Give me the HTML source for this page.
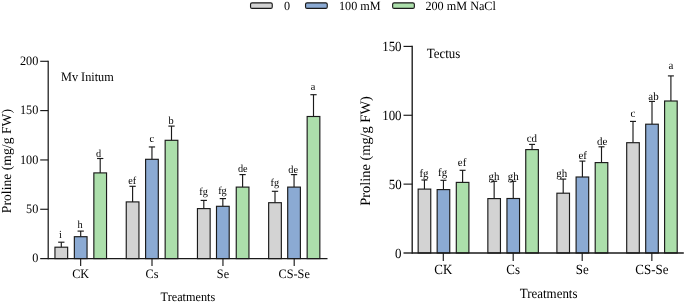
<!DOCTYPE html>
<html lang="en">
<head>
<meta charset="utf-8">
<title>Proline content chart</title>
<style>
html,body{margin:0;padding:0;background:#fff;}
body{width:685px;height:303px;overflow:hidden;}
svg{display:block;will-change:transform;opacity:0.9999;}
svg text{font-family:"Liberation Serif","Times New Roman",serif;fill:#000;text-rendering:geometricPrecision;}
</style>
</head>
<body>
<svg width="685" height="303" viewBox="0 0 685 303">
<rect x="0" y="0" width="685" height="303" fill="#ffffff"/>
<g>
<rect x="250.55" y="2.8" width="21.7" height="5.6" rx="1.5" ry="1.5" fill="#d3d3d3" stroke="#1a1a1a" stroke-width="1.15"/>
<text transform="translate(284.10 9.70) scale(0.9709 1)" font-size="12.57">0</text>
<rect x="305.55" y="2.8" width="21.7" height="5.6" rx="1.5" ry="1.5" fill="#8baad3" stroke="#1a1a1a" stroke-width="1.15"/>
<text transform="translate(339.00 9.70) scale(0.9709 1)" font-size="12.57">100 mM</text>
<rect x="392.65" y="2.8" width="21.7" height="5.6" rx="1.5" ry="1.5" fill="#acdfab" stroke="#1a1a1a" stroke-width="1.15"/>
<text transform="translate(425.40 9.70) scale(0.9709 1)" font-size="12.57">200 mM NaCl</text>
</g>
<g>
<line x1="61.30" y1="247.20" x2="61.30" y2="242.20" stroke="#1a1a1a" stroke-width="1.15"/>
<line x1="58.15" y1="242.20" x2="64.45" y2="242.20" stroke="#1a1a1a" stroke-width="1.15"/>
<rect x="54.95" y="247.20" width="12.70" height="11.40" fill="#d3d3d3" stroke="#1a1a1a" stroke-width="1.15"/>
<text transform="translate(60.50 237.70) scale(0.9524 1)" font-size="10.82" text-anchor="middle">i</text>
<line x1="80.70" y1="236.70" x2="80.70" y2="231.10" stroke="#1a1a1a" stroke-width="1.15"/>
<line x1="77.55" y1="231.10" x2="83.85" y2="231.10" stroke="#1a1a1a" stroke-width="1.15"/>
<rect x="74.35" y="236.70" width="12.70" height="21.90" fill="#8baad3" stroke="#1a1a1a" stroke-width="1.15"/>
<text transform="translate(80.10 227.70) scale(0.9524 1)" font-size="10.82" text-anchor="middle">h</text>
<line x1="100.20" y1="172.90" x2="100.20" y2="158.50" stroke="#1a1a1a" stroke-width="1.15"/>
<line x1="97.05" y1="158.50" x2="103.35" y2="158.50" stroke="#1a1a1a" stroke-width="1.15"/>
<rect x="93.85" y="172.90" width="12.70" height="85.70" fill="#acdfab" stroke="#1a1a1a" stroke-width="1.15"/>
<text transform="translate(98.60 156.75) scale(0.9524 1)" font-size="10.82" text-anchor="middle">d</text>
<line x1="132.60" y1="201.90" x2="132.60" y2="186.30" stroke="#1a1a1a" stroke-width="1.15"/>
<line x1="129.45" y1="186.30" x2="135.75" y2="186.30" stroke="#1a1a1a" stroke-width="1.15"/>
<rect x="126.25" y="201.90" width="12.70" height="56.70" fill="#d3d3d3" stroke="#1a1a1a" stroke-width="1.15"/>
<text transform="translate(132.30 184.10) scale(0.9524 1)" font-size="10.82" text-anchor="middle">ef</text>
<line x1="151.95" y1="159.30" x2="151.95" y2="146.95" stroke="#1a1a1a" stroke-width="1.15"/>
<line x1="148.80" y1="146.95" x2="155.10" y2="146.95" stroke="#1a1a1a" stroke-width="1.15"/>
<rect x="145.60" y="159.30" width="12.70" height="99.30" fill="#8baad3" stroke="#1a1a1a" stroke-width="1.15"/>
<text transform="translate(151.80 142.30) scale(0.9524 1)" font-size="10.82" text-anchor="middle">c</text>
<line x1="171.50" y1="140.30" x2="171.50" y2="126.10" stroke="#1a1a1a" stroke-width="1.15"/>
<line x1="168.35" y1="126.10" x2="174.65" y2="126.10" stroke="#1a1a1a" stroke-width="1.15"/>
<rect x="165.15" y="140.30" width="12.70" height="118.30" fill="#acdfab" stroke="#1a1a1a" stroke-width="1.15"/>
<text transform="translate(171.10 124.00) scale(0.9524 1)" font-size="10.82" text-anchor="middle">b</text>
<line x1="203.80" y1="208.60" x2="203.80" y2="200.40" stroke="#1a1a1a" stroke-width="1.15"/>
<line x1="200.65" y1="200.40" x2="206.95" y2="200.40" stroke="#1a1a1a" stroke-width="1.15"/>
<rect x="197.45" y="208.60" width="12.70" height="50.00" fill="#d3d3d3" stroke="#1a1a1a" stroke-width="1.15"/>
<text transform="translate(203.50 194.60) scale(0.9524 1)" font-size="10.82" text-anchor="middle">fg</text>
<line x1="222.85" y1="206.30" x2="222.85" y2="198.60" stroke="#1a1a1a" stroke-width="1.15"/>
<line x1="219.70" y1="198.60" x2="226.00" y2="198.60" stroke="#1a1a1a" stroke-width="1.15"/>
<rect x="216.50" y="206.30" width="12.70" height="52.30" fill="#8baad3" stroke="#1a1a1a" stroke-width="1.15"/>
<text transform="translate(222.45 193.80) scale(0.9524 1)" font-size="10.82" text-anchor="middle">fg</text>
<line x1="242.60" y1="187.10" x2="242.60" y2="174.60" stroke="#1a1a1a" stroke-width="1.15"/>
<line x1="239.45" y1="174.60" x2="245.75" y2="174.60" stroke="#1a1a1a" stroke-width="1.15"/>
<rect x="236.25" y="187.10" width="12.70" height="71.50" fill="#acdfab" stroke="#1a1a1a" stroke-width="1.15"/>
<text transform="translate(242.75 172.30) scale(0.9524 1)" font-size="10.82" text-anchor="middle">de</text>
<line x1="275.00" y1="202.70" x2="275.00" y2="191.30" stroke="#1a1a1a" stroke-width="1.15"/>
<line x1="271.85" y1="191.30" x2="278.15" y2="191.30" stroke="#1a1a1a" stroke-width="1.15"/>
<rect x="268.65" y="202.70" width="12.70" height="55.90" fill="#d3d3d3" stroke="#1a1a1a" stroke-width="1.15"/>
<text transform="translate(274.90 186.40) scale(0.9524 1)" font-size="10.82" text-anchor="middle">fg</text>
<line x1="294.05" y1="187.10" x2="294.05" y2="174.60" stroke="#1a1a1a" stroke-width="1.15"/>
<line x1="290.90" y1="174.60" x2="297.20" y2="174.60" stroke="#1a1a1a" stroke-width="1.15"/>
<rect x="287.70" y="187.10" width="12.70" height="71.50" fill="#8baad3" stroke="#1a1a1a" stroke-width="1.15"/>
<text transform="translate(293.20 173.00) scale(0.9524 1)" font-size="10.82" text-anchor="middle">de</text>
<line x1="313.50" y1="116.50" x2="313.50" y2="94.70" stroke="#1a1a1a" stroke-width="1.15"/>
<line x1="310.35" y1="94.70" x2="316.65" y2="94.70" stroke="#1a1a1a" stroke-width="1.15"/>
<rect x="307.15" y="116.50" width="12.70" height="142.10" fill="#acdfab" stroke="#1a1a1a" stroke-width="1.15"/>
<text transform="translate(313.10 89.70) scale(0.9524 1)" font-size="10.82" text-anchor="middle">a</text>
<line x1="48.20" y1="60.72" x2="48.20" y2="259.23" stroke="#1a1a1a" stroke-width="1.25"/>
<line x1="48.20" y1="258.60" x2="327.50" y2="258.60" stroke="#1a1a1a" stroke-width="1.25"/>
<line x1="40.20" y1="258.60" x2="48.20" y2="258.60" stroke="#1a1a1a" stroke-width="1.25"/>
<text transform="translate(38.30 262.35) scale(0.9524 1)" font-size="12.86" text-anchor="end">0</text>
<line x1="40.20" y1="209.27" x2="48.20" y2="209.27" stroke="#1a1a1a" stroke-width="1.15"/>
<text transform="translate(38.30 213.02) scale(0.9524 1)" font-size="12.86" text-anchor="end">50</text>
<line x1="40.20" y1="159.95" x2="48.20" y2="159.95" stroke="#1a1a1a" stroke-width="1.15"/>
<text transform="translate(38.30 163.70) scale(0.9524 1)" font-size="12.86" text-anchor="end">100</text>
<line x1="40.20" y1="110.60" x2="48.20" y2="110.60" stroke="#1a1a1a" stroke-width="1.15"/>
<text transform="translate(38.30 114.35) scale(0.9524 1)" font-size="12.86" text-anchor="end">150</text>
<line x1="40.20" y1="61.30" x2="48.20" y2="61.30" stroke="#1a1a1a" stroke-width="1.15"/>
<text transform="translate(38.30 65.05) scale(0.9524 1)" font-size="12.86" text-anchor="end">200</text>
<line x1="80.65" y1="258.60" x2="80.65" y2="266.10" stroke="#1a1a1a" stroke-width="1.15"/>
<text transform="translate(80.65 278.30) scale(0.9524 1)" font-size="12.86" text-anchor="middle">CK</text>
<line x1="152.00" y1="258.60" x2="152.00" y2="266.10" stroke="#1a1a1a" stroke-width="1.15"/>
<text transform="translate(152.00 278.30) scale(0.9524 1)" font-size="12.86" text-anchor="middle">Cs</text>
<line x1="222.95" y1="258.60" x2="222.95" y2="266.10" stroke="#1a1a1a" stroke-width="1.15"/>
<text transform="translate(222.95 278.30) scale(0.9524 1)" font-size="12.86" text-anchor="middle">Se</text>
<line x1="294.20" y1="258.60" x2="294.20" y2="266.10" stroke="#1a1a1a" stroke-width="1.15"/>
<text transform="translate(294.20 278.30) scale(0.9524 1)" font-size="12.86" text-anchor="middle">CS-Se</text>
<text transform="translate(61.00 80.90) scale(0.9524 1)" font-size="12.86">Mv Initum</text>
<text transform="translate(187.90 301.40) scale(0.9524 1)" font-size="12.86" text-anchor="middle">Treatments</text>
<text transform="translate(11.20 161.10) rotate(-90)" font-size="13.7" text-anchor="middle">Proline (mg/g FW)</text>
</g>
<g>
<line x1="424.45" y1="189.10" x2="424.45" y2="180.00" stroke="#1a1a1a" stroke-width="1.15"/>
<line x1="421.45" y1="180.00" x2="427.45" y2="180.00" stroke="#1a1a1a" stroke-width="1.15"/>
<rect x="418.15" y="189.10" width="12.60" height="63.90" fill="#d3d3d3" stroke="#1a1a1a" stroke-width="1.15"/>
<text transform="translate(424.00 177.10) scale(0.9615 1)" font-size="11.34" text-anchor="middle">fg</text>
<line x1="443.45" y1="189.60" x2="443.45" y2="180.30" stroke="#1a1a1a" stroke-width="1.15"/>
<line x1="440.45" y1="180.30" x2="446.45" y2="180.30" stroke="#1a1a1a" stroke-width="1.15"/>
<rect x="437.15" y="189.60" width="12.60" height="63.40" fill="#8baad3" stroke="#1a1a1a" stroke-width="1.15"/>
<text transform="translate(442.60 176.10) scale(0.9615 1)" font-size="11.34" text-anchor="middle">fg</text>
<line x1="462.60" y1="182.40" x2="462.60" y2="170.30" stroke="#1a1a1a" stroke-width="1.15"/>
<line x1="459.60" y1="170.30" x2="465.60" y2="170.30" stroke="#1a1a1a" stroke-width="1.15"/>
<rect x="456.30" y="182.40" width="12.60" height="70.60" fill="#acdfab" stroke="#1a1a1a" stroke-width="1.15"/>
<text transform="translate(462.10 165.80) scale(0.9615 1)" font-size="11.34" text-anchor="middle">ef</text>
<line x1="494.15" y1="198.60" x2="494.15" y2="181.30" stroke="#1a1a1a" stroke-width="1.15"/>
<line x1="491.15" y1="181.30" x2="497.15" y2="181.30" stroke="#1a1a1a" stroke-width="1.15"/>
<rect x="487.85" y="198.60" width="12.60" height="54.40" fill="#d3d3d3" stroke="#1a1a1a" stroke-width="1.15"/>
<text transform="translate(494.00 180.00) scale(0.9615 1)" font-size="11.34" text-anchor="middle">gh</text>
<line x1="513.25" y1="198.50" x2="513.25" y2="181.30" stroke="#1a1a1a" stroke-width="1.15"/>
<line x1="510.25" y1="181.30" x2="516.25" y2="181.30" stroke="#1a1a1a" stroke-width="1.15"/>
<rect x="506.95" y="198.50" width="12.60" height="54.50" fill="#8baad3" stroke="#1a1a1a" stroke-width="1.15"/>
<text transform="translate(513.20 180.00) scale(0.9615 1)" font-size="11.34" text-anchor="middle">gh</text>
<line x1="532.05" y1="149.60" x2="532.05" y2="144.40" stroke="#1a1a1a" stroke-width="1.15"/>
<line x1="529.05" y1="144.40" x2="535.05" y2="144.40" stroke="#1a1a1a" stroke-width="1.15"/>
<rect x="525.75" y="149.60" width="12.60" height="103.40" fill="#acdfab" stroke="#1a1a1a" stroke-width="1.15"/>
<text transform="translate(531.80 142.00) scale(0.9615 1)" font-size="11.34" text-anchor="middle">cd</text>
<line x1="563.20" y1="193.20" x2="563.20" y2="179.10" stroke="#1a1a1a" stroke-width="1.15"/>
<line x1="560.20" y1="179.10" x2="566.20" y2="179.10" stroke="#1a1a1a" stroke-width="1.15"/>
<rect x="556.90" y="193.20" width="12.60" height="59.80" fill="#d3d3d3" stroke="#1a1a1a" stroke-width="1.15"/>
<text transform="translate(561.80 177.10) scale(0.9615 1)" font-size="11.34" text-anchor="middle">gh</text>
<line x1="582.40" y1="177.00" x2="582.40" y2="161.10" stroke="#1a1a1a" stroke-width="1.15"/>
<line x1="579.40" y1="161.10" x2="585.40" y2="161.10" stroke="#1a1a1a" stroke-width="1.15"/>
<rect x="576.10" y="177.00" width="12.60" height="76.00" fill="#8baad3" stroke="#1a1a1a" stroke-width="1.15"/>
<text transform="translate(582.70 159.10) scale(0.9615 1)" font-size="11.34" text-anchor="middle">ef</text>
<line x1="601.50" y1="162.60" x2="601.50" y2="146.80" stroke="#1a1a1a" stroke-width="1.15"/>
<line x1="598.50" y1="146.80" x2="604.50" y2="146.80" stroke="#1a1a1a" stroke-width="1.15"/>
<rect x="595.20" y="162.60" width="12.60" height="90.40" fill="#acdfab" stroke="#1a1a1a" stroke-width="1.15"/>
<text transform="translate(602.20 144.70) scale(0.9615 1)" font-size="11.34" text-anchor="middle">de</text>
<line x1="633.00" y1="142.70" x2="633.00" y2="121.40" stroke="#1a1a1a" stroke-width="1.15"/>
<line x1="630.00" y1="121.40" x2="636.00" y2="121.40" stroke="#1a1a1a" stroke-width="1.15"/>
<rect x="626.70" y="142.70" width="12.60" height="110.30" fill="#d3d3d3" stroke="#1a1a1a" stroke-width="1.15"/>
<text transform="translate(632.90 117.10) scale(0.9615 1)" font-size="11.34" text-anchor="middle">c</text>
<line x1="652.00" y1="124.20" x2="652.00" y2="101.40" stroke="#1a1a1a" stroke-width="1.15"/>
<line x1="649.00" y1="101.40" x2="655.00" y2="101.40" stroke="#1a1a1a" stroke-width="1.15"/>
<rect x="645.70" y="124.20" width="12.60" height="128.80" fill="#8baad3" stroke="#1a1a1a" stroke-width="1.15"/>
<text transform="translate(653.50 99.90) scale(0.9615 1)" font-size="11.34" text-anchor="middle">ab</text>
<line x1="670.90" y1="101.00" x2="670.90" y2="75.90" stroke="#1a1a1a" stroke-width="1.15"/>
<line x1="667.90" y1="75.90" x2="673.90" y2="75.90" stroke="#1a1a1a" stroke-width="1.15"/>
<rect x="664.60" y="101.00" width="12.60" height="152.00" fill="#acdfab" stroke="#1a1a1a" stroke-width="1.15"/>
<text transform="translate(670.85 68.65) scale(0.9615 1)" font-size="11.34" text-anchor="middle">a</text>
<line x1="412.20" y1="45.82" x2="412.20" y2="253.68" stroke="#1a1a1a" stroke-width="1.35"/>
<line x1="412.20" y1="253.00" x2="683.80" y2="253.00" stroke="#1a1a1a" stroke-width="1.35"/>
<line x1="403.50" y1="253.00" x2="412.20" y2="253.00" stroke="#1a1a1a" stroke-width="1.35"/>
<text transform="translate(401.60 257.70) scale(0.9259 1)" font-size="13.99" text-anchor="end">0</text>
<line x1="403.50" y1="184.13" x2="412.20" y2="184.13" stroke="#1a1a1a" stroke-width="1.15"/>
<text transform="translate(401.60 188.83) scale(0.9259 1)" font-size="13.99" text-anchor="end">50</text>
<line x1="403.50" y1="115.27" x2="412.20" y2="115.27" stroke="#1a1a1a" stroke-width="1.15"/>
<text transform="translate(401.60 119.97) scale(0.9259 1)" font-size="13.99" text-anchor="end">100</text>
<line x1="403.50" y1="46.40" x2="412.20" y2="46.40" stroke="#1a1a1a" stroke-width="1.15"/>
<text transform="translate(401.60 51.10) scale(0.9259 1)" font-size="13.99" text-anchor="end">150</text>
<line x1="443.30" y1="253.00" x2="443.30" y2="260.90" stroke="#1a1a1a" stroke-width="1.15"/>
<text transform="translate(443.30 274.10) scale(0.9259 1)" font-size="13.99" text-anchor="middle">CK</text>
<line x1="513.20" y1="253.00" x2="513.20" y2="260.90" stroke="#1a1a1a" stroke-width="1.15"/>
<text transform="translate(513.20 274.10) scale(0.9259 1)" font-size="13.99" text-anchor="middle">Cs</text>
<line x1="582.20" y1="253.00" x2="582.20" y2="260.90" stroke="#1a1a1a" stroke-width="1.15"/>
<text transform="translate(582.20 274.10) scale(0.9259 1)" font-size="13.99" text-anchor="middle">Se</text>
<line x1="651.85" y1="253.00" x2="651.85" y2="260.90" stroke="#1a1a1a" stroke-width="1.15"/>
<text transform="translate(651.85 274.10) scale(0.9259 1)" font-size="13.99" text-anchor="middle">CS-Se</text>
<text transform="translate(426.70 57.60) scale(0.9259 1)" font-size="13.99">Tectus</text>
<text transform="translate(548.60 297.60) scale(0.9259 1)" font-size="13.99" text-anchor="middle">Treatments</text>
<text transform="translate(370.00 151.00) rotate(-90)" font-size="14.4" text-anchor="middle">Proline (mg/g FW)</text>
</g>
</svg>
</body>
</html>
